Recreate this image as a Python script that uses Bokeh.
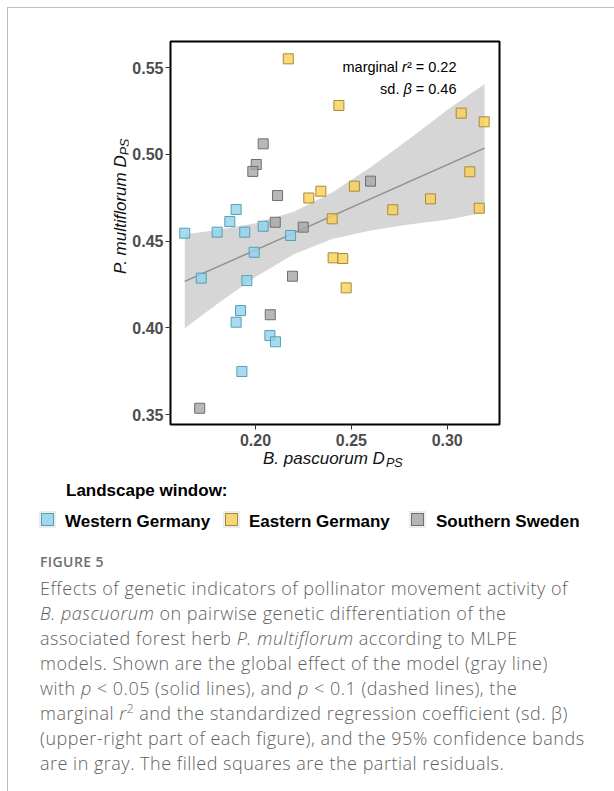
import math
from bokeh.plotting import figure
from bokeh.models import Range1d, FixedTicker, Label, Div
from bokeh.layouts import column, row
from bokeh.embed import file_html
from bokeh.resources import INLINE

# ---------------- data ----------------
west_x = [0.1631, 0.1899, 0.1866, 0.1800, 0.1944, 0.2040, 0.2183, 0.1993,
          0.1717, 0.1955, 0.1922, 0.1899, 0.2075, 0.2104, 0.1929]
west_y = [0.4545, 0.4682, 0.4612, 0.4551, 0.4551, 0.4585, 0.4532, 0.4435,
          0.4286, 0.4272, 0.4099, 0.4032, 0.3955, 0.3919, 0.3748]
east_x = [0.2171, 0.2435, 0.3073, 0.3193, 0.3118, 0.2516, 0.2341, 0.2278,
          0.2400, 0.2716, 0.2913, 0.3167, 0.2405, 0.2455, 0.2473]
east_y = [0.5550, 0.5281, 0.5237, 0.5187, 0.4899, 0.4816, 0.4787, 0.4748,
          0.4628, 0.4680, 0.4743, 0.4689, 0.4403, 0.4399, 0.4230]
swe_x = [0.2040, 0.2004, 0.1986, 0.2115, 0.2103, 0.2249, 0.2600, 0.2193,
         0.2077, 0.1709]
swe_y = [0.5060, 0.4941, 0.4901, 0.4762, 0.4608, 0.4580, 0.4845, 0.4297,
         0.4075, 0.3536]

fit_x = [0.1631, 0.3195]
fit_y = [0.4267, 0.5035]

band_x = [0.1631, 0.18, 0.20, 0.22, 0.24, 0.26, 0.28, 0.30, 0.3195]
band_upper = [0.4537, 0.4563, 0.4603, 0.4668, 0.4779, 0.4925, 0.5087, 0.5255, 0.5405]
band_lower = [0.3997, 0.4137, 0.4293, 0.4424, 0.4511, 0.4561, 0.4595, 0.4623, 0.4665]

x_ticks = [0.20, 0.25, 0.30]
x_tick_labels = ["0.20", "0.25", "0.30"]
y_ticks = [0.35, 0.40, 0.45, 0.50, 0.55]
y_tick_labels = ["0.35", "0.40", "0.45", "0.50", "0.55"]

groups = ["Western Germany", "Eastern Germany", "Southern Sweden"]
legend_title = "Landscape window:"
stat_r2 = "0.22"
stat_beta = "0.46"
x_title, y_title, title_sub = "B. pascuorum D", "P. multiflorum D", "PS"

caption_title = "FIGURE 5"
caption_lines = [
    "Effects of genetic indicators of pollinator movement activity of",
    "<i>B. pascuorum</i> on pairwise genetic differentiation of the",
    "associated forest herb <i>P. multiflorum</i> according to MLPE",
    "models. Shown are the global effect of the model (gray line)",
    "with <i>p</i> &lt; 0.05 (solid lines), and <i>p</i> &lt; 0.1 (dashed lines), the",
    "marginal <i>r</i><sup style='font-size:12px;line-height:0'>2</sup> and the standardized regression coefficient (sd. &beta;)",
    "(upper-right part of each figure), and the 95% confidence bands",
    "are in gray. The filled squares are the partial residuals.",
]

# ---------------- geometry / styles ----------------
W = 614
TOP_H = 39          # strip above the main figure
LEFT_W = 128        # strip left of the main figure
MAIN_H = 411
BOT_H = 95
CAP_H = 791 - TOP_H - MAIN_H - BOT_H
FL, FRX, FT, FB = 170, 499, 41, 424   # frame edges in page pixels
XS, XE = 0.15566, 0.32728
YS, YE = 0.34424, 0.56499
fw = FRX - FL
fh = FB - FT
BORDER = "#bdbdbd"
fills = ["#8fd3ec", "#f9cf55", "#a6a6a6"]
fills_rgba = ["rgba(143,211,236,0.8)", "rgba(249,207,85,0.8)", "rgba(166,166,166,0.8)"]
lines = ["#5b9db3", "#a88a3a", "#6f6f6f"]
ALPHA = 0.8
FONT = "Liberation Sans"


def dx(px):
    return XS + (px - FL) * (XE - XS) / fw


def dy(py):
    return YE - (py - FT) * (YE - YS) / fh


def add_label(fig, x, y, text, size="15px", style="normal", align="left",
              baseline="alphabetic", color="black", angle=0.0):
    fig.add_layout(Label(x=x, y=y, text=text, text_font=FONT,
                         text_font_size=size, text_font_style=style,
                         text_align=align, text_baseline=baseline,
                         text_color=color, angle=angle))


# ---------------- main plot ----------------
p = figure(width=W - LEFT_W, height=MAIN_H, x_range=Range1d(XS, XE),
           y_range=Range1d(YS, YE), output_backend="svg", toolbar_location=None,
           title=None,
           min_border_left=FL - LEFT_W, min_border_right=W - FRX,
           min_border_top=FT - TOP_H, min_border_bottom=MAIN_H - (FB - TOP_H))
p.grid.visible = False
p.outline_line_color = "black"
p.outline_line_width = 2
p.background_fill_color = "white"
p.border_fill_color = "white"

p.xaxis.ticker = FixedTicker(ticks=x_ticks)
p.xaxis.major_label_overrides = {t: l for t, l in zip(x_ticks, x_tick_labels)}
p.yaxis.ticker = FixedTicker(ticks=y_ticks)
p.yaxis.major_label_overrides = {t: l for t, l in zip(y_ticks, y_tick_labels)}
for ax in (p.xaxis[0], p.yaxis[0]):
    ax.axis_line_color = None
    ax.major_tick_line_color = "#333333"
    ax.major_tick_line_width = 1
    ax.major_tick_out = 5
    ax.major_tick_in = 0
    ax.minor_tick_line_color = None
    ax.major_label_text_font = FONT
    ax.major_label_text_font_style = "bold"
    ax.major_label_text_font_size = "16px"
    ax.major_label_text_color = "#4d4d4d"
p.xaxis[0].major_label_standoff = 4
p.yaxis[0].major_label_standoff = 2

p.varea(x=band_x, y1=band_lower, y2=band_upper, fill_color="#d6d6d6", fill_alpha=1.0)
p.line(fit_x, fit_y, line_color="#8e8e8e", line_width=1.4)

for xs, ys, fc, lc in [(west_x, west_y, fills[0], lines[0]),
                       (swe_x, swe_y, fills[2], lines[2]),
                       (east_x, east_y, fills[1], lines[1])]:
    p.scatter(xs, ys, marker="square", size=10, fill_color=fc, fill_alpha=ALPHA,
              line_color=lc, line_width=1)

# statistics annotation (right aligned)
FS = "14.5px"
k = 14.5 / 1000.0
RX = 456
w3 = (333 + 278 + 584 + 278 + 1946) * k
add_label(p, dx(RX), dy(66.7), "\u00b2 = " + stat_r2, FS, align="right")
add_label(p, dx(RX - w3), dy(66.7), "r", FS, style="italic", align="right")
add_label(p, dx(RX - w3 - 4.8 - 278 * k), dy(66.7), "marginal", FS, align="right")
w4 = (584 + 278 + 1946) * k
add_label(p, dx(RX), dy(88.3), "= " + stat_beta, FS, align="right")
add_label(p, dx(RX - w4 - 278 * k), dy(88.3), "\u03b2", FS, style="italic", align="right")
add_label(p, dx(RX - w4 - 2 * 278 * k - 8.3), dy(88.3), "sd.", FS, align="right")

# ---------------- top strip (card border) ----------------
top_html = (
    "<div style='position:relative;width:%dpx;height:%dpx;'>"
    "<div style='position:absolute;left:7px;top:7px;width:%dpx;height:%dpx;"
    "border-top:1px solid %s;border-left:1px solid %s;box-sizing:border-box;'></div></div>"
    % (W, TOP_H, W - 7, TOP_H - 7, BORDER, BORDER)
)
top = Div(text=top_html, width=W, height=TOP_H, margin=(0, 0, 0, 0))

# ---------------- left strip (y title) ----------------
left_html = (
    "<div style='position:relative;width:%dpx;height:%dpx;overflow:visible;'>"
    "<div style='position:absolute;left:7px;top:0;width:0;height:%dpx;"
    "border-left:1px solid %s;'></div>"
    "<div style=\"position:absolute;left:110.5px;top:%dpx;transform-origin:0 0;"
    "transform:rotate(-90deg);white-space:nowrap;font-family:'Liberation Sans';"
    "font-style:italic;font-size:17px;line-height:20px;color:#111111;\">%s"
    "<span style='font-size:12.5px;position:relative;top:2.5px;'>%s</span></div></div>"
    % (LEFT_W, MAIN_H, MAIN_H, BORDER, 274 - TOP_H, y_title, title_sub)
)
left = Div(text=left_html, width=LEFT_W, height=MAIN_H, margin=(0, 0, 0, 0))

# ---------------- bottom strip (x title + legend) ----------------
y0 = TOP_H + MAIN_H
X0 = 8        # children are placed relative to the box right of the card border
ASC = 14.39   # baseline offset inside a 17px line box (Liberation Sans)


def abs_text(left_px, base_py, content, style):
    return ("<div style=\"position:absolute;left:%.1fpx;top:%.1fpx;white-space:nowrap;"
            "font-family:'Liberation Sans';font-size:17px;line-height:17px;%s\">%s</div>"
            % (left_px - X0, base_py - y0 - ASC, style, content))


key_cx = [47, 231.5, 417]
txt_x = [65, 249, 436]
parts = [
    "<div style='position:relative;margin-left:7px;width:%dpx;height:%dpx;"
    "border-left:1px solid %s;box-sizing:border-box;'>" % (W - 7, BOT_H, BORDER),
    abs_text(263, 464, x_title + "<span style='font-size:12.5px;position:relative;"
             "top:3.5px;margin-left:1px;'>" + title_sub + "</span>",
             "font-style:italic;color:#111111;"),
    abs_text(66, 496.7, legend_title, "font-weight:bold;color:#000;"),
]
for i, g in enumerate(groups):
    cy = 519 - y0
    parts.append("<div style='position:absolute;left:%.1fpx;top:%.1fpx;width:17px;height:17px;"
                 "background:#ececec;'></div>" % (key_cx[i] - 8.5 - X0, cy - 8.5))
    parts.append("<div style='position:absolute;left:%.1fpx;top:%.1fpx;width:13px;height:13px;"
                 "box-sizing:border-box;background:%s;border:1px solid %s;'></div>"
                 % (key_cx[i] - 6.5 - X0, cy - 6.5, fills_rgba[i], lines[i]))
    parts.append(abs_text(txt_x[i], 527, g, "font-weight:bold;color:#000;"))
parts.append("</div>")
bot = Div(text="".join(parts), width=W, height=BOT_H, margin=(0, 0, 0, 0))

# ---------------- caption ----------------
cap_html = (
    "<div style=\"margin-left:7px;border-left:1px solid " + BORDER + ";padding-left:32px;"
    "width:606px;height:" + str(CAP_H) + "px;box-sizing:border-box;"
    "font-family:'Open Sans',sans-serif;color:#5f5f5f;white-space:nowrap;\">"
    "<div style='padding-top:7px;font-size:14px;font-weight:600;letter-spacing:0.4px;"
    "line-height:20px;color:#6e6e6e;'>" + caption_title + "</div>"
    "<div style='margin-top:3.5px;font-size:18px;line-height:25px;font-weight:300;"
    "letter-spacing:0.5px;'>"
    + "<br>".join(caption_lines) + "</div></div>"
)
cap = Div(text=cap_html, width=W, height=CAP_H, margin=(0, 0, 0, 0))

layout = column(top, row(left, p, spacing=0), bot, cap, spacing=0)
open("out.html", "w").write(file_html(layout, INLINE))
